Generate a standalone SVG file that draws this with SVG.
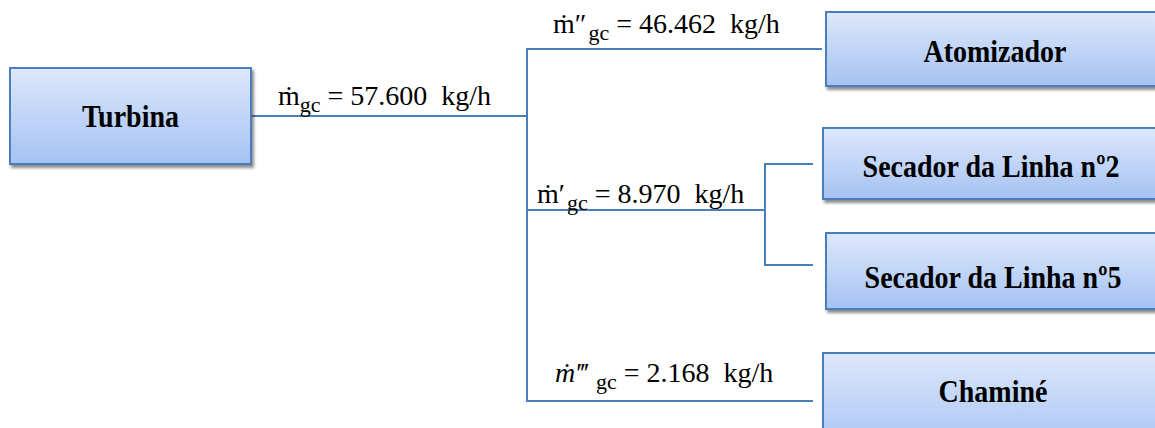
<svg xmlns="http://www.w3.org/2000/svg" width="1155" height="428" viewBox="0 0 1155 428">
  <defs>
    <linearGradient id="boxGrad" x1="0" y1="0" x2="0" y2="1">
      <stop offset="0" stop-color="#dde8fb"/>
      <stop offset="1" stop-color="#a5c2f3"/>
    </linearGradient>
    <filter id="shadow" x="-10%" y="-10%" width="130%" height="140%">
      <feDropShadow dx="2" dy="3" stdDeviation="1.5" flood-color="#000" flood-opacity="0.45"/>
    </filter>
  </defs>
  <style>
    .box { fill: url(#boxGrad); stroke: #4a7ebb; stroke-width: 2; filter: url(#shadow); }
    .name { font-family: 'Liberation Serif', 'Times New Roman', serif; font-weight: bold; font-size: 28px; fill: #000; text-anchor: middle; }
    .lbl { font-family: 'Liberation Serif', 'Times New Roman', serif; font-size: 28px; fill: #000; white-space: pre; }
    .sub { font-size: 22px; }
    .conn { fill: none; stroke: #4a7ebb; stroke-width: 2; }
  </style>
  <rect width="1155" height="428" fill="#fff"/>

  <g id="connectors">
    <line class="conn" x1="251" y1="116" x2="527" y2="116"/>
    <line class="conn" x1="527" y1="49" x2="527" y2="401"/>
    <line class="conn" x1="526" y1="49" x2="822" y2="49"/>
    <line class="conn" x1="527" y1="210" x2="765" y2="210"/>
    <polyline class="conn" points="813,164 765,164 765,265 813,265"/>
    <line class="conn" x1="526" y1="401" x2="813" y2="401"/>
  </g>

  <g id="labels">
    <text class="lbl" x="278" y="105">ṁ<tspan class="sub" dy="7">gc</tspan><tspan dy="-7"> = 57.600  kg/h</tspan></text>
    <text class="lbl" x="553" y="33">ṁ″<tspan class="sub" dy="7" dx="2">gc</tspan><tspan dy="-7"> = 46.462  kg/h</tspan></text>
    <text class="lbl" x="537" y="203">ṁ′<tspan class="sub" dy="7" dx="2">gc</tspan><tspan dy="-7"> = 8.970  kg/h</tspan></text>
    <text class="lbl" x="555" y="382"><tspan font-style="italic">ṁ‴</tspan><tspan class="sub" dy="7" dx="9">gc</tspan><tspan dy="-7"> = 2.168  kg/h</tspan></text>
  </g>

  <g id="turbina">
    <rect class="box" x="10" y="68" width="241" height="96"/>
    <text class="name" transform="translate(130.5,127) scale(1,1.12)">Turbina</text>
  </g>
  <g id="atomizador">
    <rect class="box" x="826" y="12" width="340" height="74"/>
    <text class="name" transform="translate(995,62) scale(1,1.12)">Atomizador</text>
  </g>
  <g id="secador2">
    <rect class="box" x="823" y="128" width="340" height="71"/>
    <text class="name" transform="translate(991,177) scale(1,1.12)">Secador da Linha nº2</text>
  </g>
  <g id="secador5">
    <rect class="box" x="826" y="233" width="340" height="76"/>
    <text class="name" transform="translate(993,288) scale(1,1.12)">Secador da Linha nº5</text>
  </g>
  <g id="chamine">
    <rect class="box" x="823" y="353" width="340" height="100"/>
    <text class="name" transform="translate(993,402) scale(1,1.12)">Chaminé</text>
  </g>
</svg>
